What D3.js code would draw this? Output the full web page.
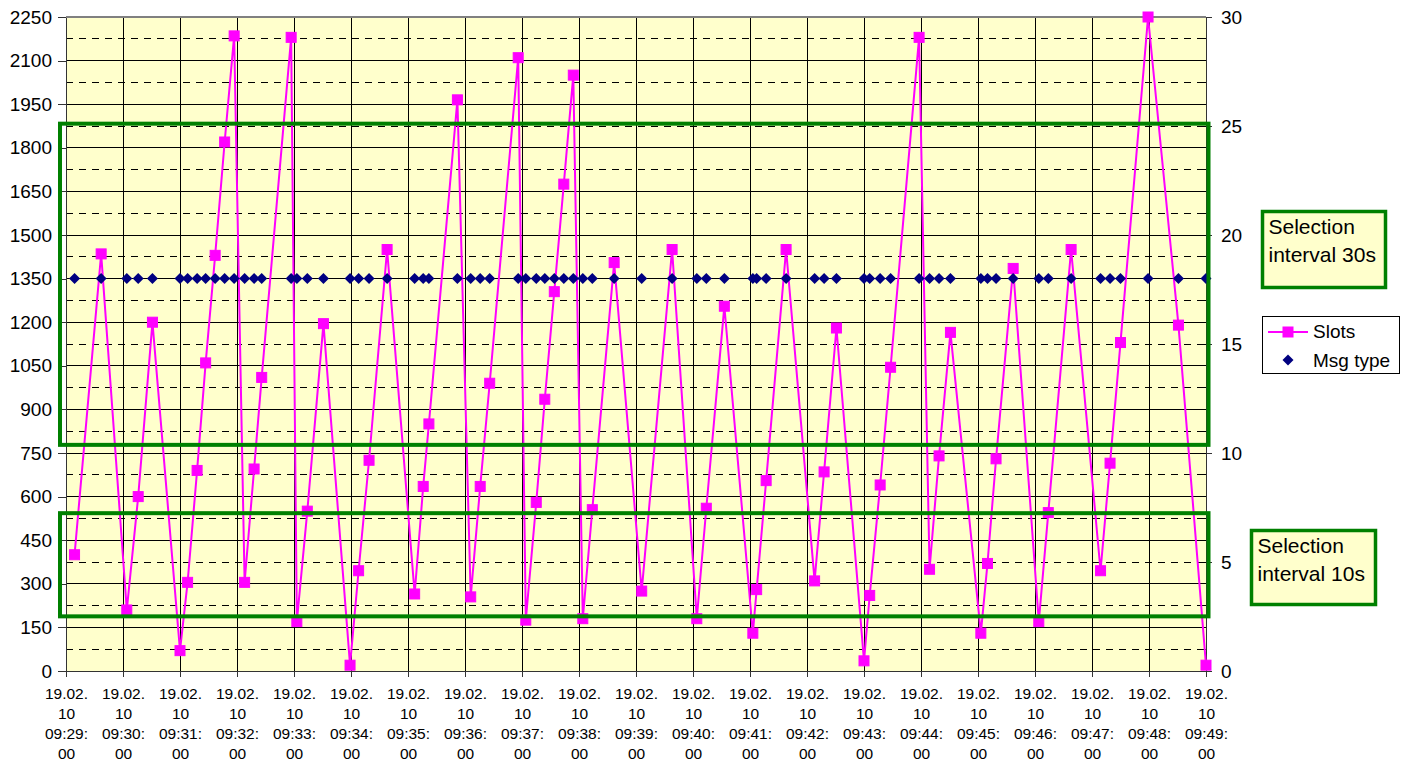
<!DOCTYPE html>
<html>
<head>
<meta charset="utf-8">
<script src="https://cdn.jsdelivr.net/npm/d3@7/dist/d3.min.js"></script>
<style>
    body { margin: 0; background: #ffffff; }
    svg text { font-family: Arial, "Liberation Sans", sans-serif; fill: #000000; }
</style>
</head>
<body>
<div id="chart"></div>
<script>
/* --------------------------------------------------------- */
/* Data.                                                     */
/* --------------------------------------------------------- */
var day = "19.02.10";
var times = [
    "09:29:09", "09:29:37", "09:30:04", "09:30:16", "09:30:31",
    "09:31:00", "09:31:08", "09:31:18", "09:31:27", "09:31:37",
    "09:31:47", "09:31:57", "09:32:08", "09:32:18", "09:32:26",
    "09:32:57", "09:33:03", "09:33:14", "09:33:31", "09:33:59",
    "09:34:08", "09:34:19", "09:34:38", "09:35:07", "09:35:16",
    "09:35:22", "09:35:52", "09:36:06", "09:36:16", "09:36:26",
    "09:36:56", "09:37:04", "09:37:15", "09:37:24", "09:37:34",
    "09:37:44", "09:37:54", "09:38:04", "09:38:14", "09:38:37",
    "09:39:06", "09:39:38", "09:40:04", "09:40:14", "09:40:33",
    "09:41:03", "09:41:07", "09:41:17", "09:41:38", "09:42:08",
    "09:42:18", "09:42:31", "09:43:00", "09:43:06", "09:43:17",
    "09:43:28", "09:43:58", "09:44:09", "09:44:19", "09:44:31",
    "09:45:03", "09:45:10", "09:45:19", "09:45:37", "09:46:04",
    "09:46:14", "09:46:38", "09:47:09", "09:47:19", "09:47:30",
    "09:47:59", "09:48:31", "09:49:00"];
var slots = [
     400, 1435,  210,  600, 1200,
      70,  305,  690, 1060, 1430,
    1820, 2185,  305,  695, 1010,
    2180,  170,  550, 1195,   20,
     345,  725, 1450,  265,  635,
     850, 1965,  255,  635,  990,
    2110,  175,  580,  935, 1305,
    1675, 2050,  180,  555, 1405,
     275, 1450,  180,  560, 1255,
     130,  280,  655, 1450,  310,
     685, 1180,   35,  260,  640,
    1045, 2180,  350,  740, 1165,
     130,  370,  730, 1385,  170,
     545, 1450,  345,  715, 1130,
    2250, 1190,   20];
var msgType = [
    18, 18, 18, 18, 18, 18, 18, 18, 18, 18,
    18, 18, 18, 18, 18, 18, 18, 18, 18, 18,
    18, 18, 18, 18, 18, 18, 18, 18, 18, 18,
    18, 18, 18, 18, 18, 18, 18, 18, 18, 18,
    18, 18, 18, 18, 18, 18, 18, 18, 18, 18,
    18, 18, 18, 18, 18, 18, 18, 18, 18, 18,
    18, 18, 18, 18, 18, 18, 18, 18, 18, 18,
    18, 18, 18];
var seriesNames = ["Slots", "Msg type"];
var leftTicks  = [0, 150, 300, 450, 600, 750, 900, 1050, 1200, 1350,
                  1500, 1650, 1800, 1950, 2100, 2250];
var leftDashed = [75, 225, 375, 525, 675, 825, 975, 1125, 1275, 1425,
                  1575, 1725, 1875, 2025, 2175];
var rightTicks = [0, 5, 10, 15, 20, 25, 30];
var rightMinor = [1, 3, 5, 7, 9, 11, 13, 15, 17, 19, 21, 23, 25, 27, 29];
var timeStart = "09:29:00";
var timeEnd   = "09:49:00";

// Selection bands (Slots units).
var bandRanges = [[778, 1883], [188, 543]];
var bandLabels = [["Selection", "interval 30s"], ["Selection", "interval 10s"]];

/* --------------------------------------------------------- */
/* Setup.                                                    */
/* --------------------------------------------------------- */
var width = 1410, height = 765;
var plot = {left: 66, right: 1206, top: 17, bottom: 671};

var parse = d3.timeParse("%d.%m.%y %H:%M:%S");
var rows = times.map(function(t, i) {
    return {time: parse(day + " " + t), slots: slots[i], msg: msgType[i]};
});

var x = d3.scaleTime()
    .domain([parse(day + " " + timeStart), parse(day + " " + timeEnd)])
    .range([plot.left, plot.right]);
var yLeft = d3.scaleLinear().domain([0, 2250]).range([plot.bottom, plot.top]);
var yRight = d3.scaleLinear().domain([0, 30]).range([plot.bottom, plot.top]);

var svg = d3.select("#chart").append("svg")
    .attr("width", width)
    .attr("height", height);

// Plot background.
svg.append("rect")
    .attr("x", plot.left).attr("y", plot.top)
    .attr("width", plot.right - plot.left)
    .attr("height", plot.bottom - plot.top)
    .attr("fill", "#FFFFCC");

/* --------------------------------------------------------- */
/* Gridlines.                                                */
/* --------------------------------------------------------- */
var grid = svg.append("g").attr("shape-rendering", "crispEdges");

grid.selectAll(".hdash").data(leftDashed).enter().append("line")
    .attr("x1", plot.left).attr("x2", plot.right)
    .attr("y1", function(d) { return yLeft(d); })
    .attr("y2", function(d) { return yLeft(d); })
    .attr("stroke", "#000").attr("stroke-width", 1)
    .attr("stroke-dasharray", "7,6");

grid.selectAll(".hsolid").data(leftTicks.slice(1, -1)).enter().append("line")
    .attr("x1", plot.left).attr("x2", plot.right)
    .attr("y1", function(d) { return yLeft(d); })
    .attr("y2", function(d) { return yLeft(d); })
    .attr("stroke", "#000").attr("stroke-width", 1);

var minutes = x.ticks(d3.timeMinute.every(1));
grid.selectAll(".vsolid").data(minutes.slice(1, -1)).enter().append("line")
    .attr("x1", function(d) { return x(d); })
    .attr("x2", function(d) { return x(d); })
    .attr("y1", plot.top).attr("y2", plot.bottom)
    .attr("stroke", "#000").attr("stroke-width", 1);

// Top border.
grid.append("line")
    .attr("x1", plot.left).attr("x2", plot.right)
    .attr("y1", plot.top).attr("y2", plot.top)
    .attr("stroke", "#808080").attr("stroke-width", 1.5);

/* --------------------------------------------------------- */
/* Axes.                                                     */
/* --------------------------------------------------------- */
var gLeft = svg.append("g")
    .attr("transform", "translate(" + plot.left + ",0)")
    .call(d3.axisLeft(yLeft).tickValues(leftTicks).tickSize(8)
          .tickSizeOuter(0).tickPadding(6).tickFormat(d3.format("d")));

var gRight = svg.append("g")
    .attr("transform", "translate(" + plot.right + ",0)")
    .call(d3.axisRight(yRight).tickValues(rightTicks).tickSize(6)
          .tickSizeOuter(0).tickPadding(9).tickFormat(d3.format("d")));

gRight.selectAll(".minor").data(rightMinor).enter().append("line")
    .attr("x1", -6).attr("x2", 0)
    .attr("y1", function(d) { return yRight(d); })
    .attr("y2", function(d) { return yRight(d); })
    .attr("stroke", "#000");

var gBottom = svg.append("g")
    .attr("transform", "translate(0," + plot.bottom + ")")
    .call(d3.axisBottom(x).ticks(d3.timeMinute.every(1)).tickSize(6)
          .tickSizeOuter(0).tickFormat(""));

[gLeft, gRight, gBottom].forEach(function(g) {
    g.attr("shape-rendering", "crispEdges");
    g.select(".domain").attr("stroke", "#333").attr("stroke-width", 1.5);
    g.selectAll(".tick line").attr("stroke", "#333");
    g.selectAll("text").style("font-size", "19px")
        .attr("font-family", null);
});

// Multi-line time labels.
var lineFormats = [d3.timeFormat("%d.%m."), d3.timeFormat("%y"),
                   d3.timeFormat("%H:%M:"), d3.timeFormat("%S")];
gBottom.selectAll(".tick").each(function(d) {
    var t = d3.select(this).append("text")
        .attr("text-anchor", "middle")
        .style("font-size", "15.5px");
    lineFormats.forEach(function(f, i) {
        t.append("tspan").attr("x", 0).attr("y", 28 + i * 20).text(f(d));
    });
});

/* --------------------------------------------------------- */
/* Series.                                                   */
/* --------------------------------------------------------- */
var line = d3.line()
    .x(function(d) { return x(d.time); })
    .y(function(d) { return yLeft(d.slots); });

svg.append("path").datum(rows)
    .attr("d", line)
    .attr("fill", "none")
    .attr("stroke", "#FF00FF")
    .attr("stroke-width", 2);

svg.selectAll(".sq").data(rows).enter().append("rect")
    .attr("x", function(d) { return x(d.time) - 5; })
    .attr("y", function(d) { return yLeft(d.slots) - 5; })
    .attr("width", 10).attr("height", 10)
    .attr("fill", "#FF00FF")
    .attr("stroke", "#FF00FF").attr("stroke-width", 1);

var diamond = "M0,-5.5L5.5,0L0,5.5L-5.5,0Z";
svg.selectAll(".dm").data(rows).enter().append("path")
    .attr("transform", function(d) {
        return "translate(" + x(d.time) + "," + yRight(d.msg) + ")";
    })
    .attr("d", diamond)
    .attr("fill", "#000080");

/* --------------------------------------------------------- */
/* Selection bands and labels.                               */
/* --------------------------------------------------------- */
svg.selectAll(".band").data(bandRanges).enter().append("rect")
    .attr("x", plot.left - 6)
    .attr("y", function(d) { return yLeft(d[1]); })
    .attr("width", plot.right - plot.left + 8.5)
    .attr("height", function(d) { return yLeft(d[0]) - yLeft(d[1]); })
    .attr("fill", "none")
    .attr("stroke", "#008000")
    .attr("stroke-width", 4);

var boxes = [{x: 1262.5, y: 211.5, w: 123, h: 76},
             {x: 1251.5, y: 530.5, w: 124, h: 74}];
boxes.forEach(function(b, i) {
    svg.append("rect")
        .attr("x", b.x).attr("y", b.y)
        .attr("width", b.w).attr("height", b.h)
        .attr("fill", "#FFFFCC")
        .attr("stroke", "#008000").attr("stroke-width", 3.5);
    var t = svg.append("text").style("font-size", "21px");
    bandLabels[i].forEach(function(s, j) {
        t.append("tspan").attr("x", b.x + 6).attr("y", b.y + 22 + j * 28).text(s);
    });
});

/* --------------------------------------------------------- */
/* Legend.                                                   */
/* --------------------------------------------------------- */
var legend = svg.append("g").attr("transform", "translate(1262,316)");
legend.append("rect")
    .attr("x", 0.5).attr("y", 0.5).attr("width", 137).attr("height", 57)
    .attr("fill", "#fff").attr("stroke", "#000").attr("stroke-width", 1);
legend.append("line")
    .attr("x1", 6).attr("x2", 46).attr("y1", 16).attr("y2", 16)
    .attr("stroke", "#FF00FF").attr("stroke-width", 2);
legend.append("rect")
    .attr("x", 21).attr("y", 11).attr("width", 10).attr("height", 10)
    .attr("fill", "#FF00FF").attr("stroke", "#FF00FF");
legend.append("path")
    .attr("transform", "translate(26,44)")
    .attr("d", diamond).attr("fill", "#000080");
legend.selectAll(".lbl").data(seriesNames).enter().append("text")
    .attr("x", 51)
    .attr("y", function(d, i) { return 22 + i * 29; })
    .style("font-size", "19px")
    .text(function(d) { return d; });
</script>
</body>
</html>
